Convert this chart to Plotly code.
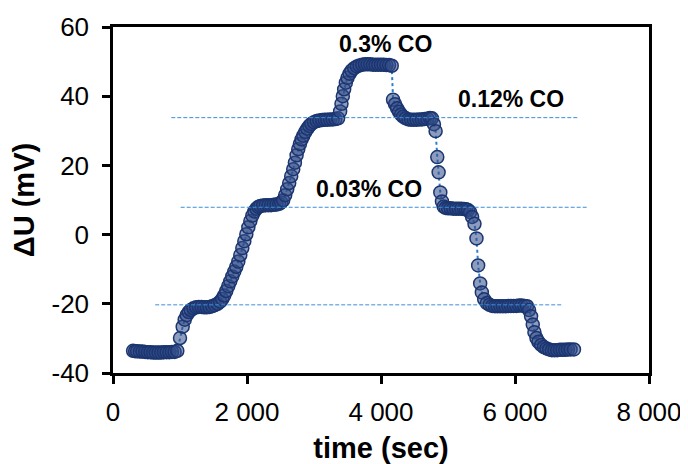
import plotly.graph_objects as go

# ---- data ----
time_s = [
    300, 330, 360, 400, 440, 480, 520, 560, 600, 640, 680, 720, 760, 800, 840, 880, 920, 960,
    1000, 1040, 1070, 1100, 1130, 1160, 1200, 1240, 1280, 1320, 1360, 1400, 1440, 1480, 1520, 1560,
    1600, 1630, 1660, 1690, 1720, 1750, 1780, 1810, 1840, 1870, 1900, 1930, 1960, 1990, 2020, 2050,
    2080, 2110, 2140, 2170, 2200, 2240, 2280, 2320, 2360, 2400, 2440, 2480, 2510, 2540,
    2570, 2600, 2630, 2660, 2690, 2715, 2740, 2765, 2790, 2815, 2840, 2870, 2900, 2930, 2960, 3000,
    3040, 3080, 3120, 3160, 3200, 3240, 3280, 3320, 3360, 3390, 3410, 3430, 3450, 3475, 3500, 3530,
    3560, 3600, 3640, 3680, 3720, 3760, 3800, 3840, 3880, 3920, 3960, 4000, 4040, 4080, 4120, 4160,
    4180, 4210, 4240, 4270, 4300, 4330, 4370, 4410, 4450, 4490, 4530, 4570, 4610, 4650, 4690, 4730,
    4760, 4790, 4815, 4840, 4860, 4885, 4910, 4935, 4965, 5000, 5040, 5080, 5120, 5160, 5200, 5240,
    5270, 5300, 5330, 5360, 5395, 5425, 5450, 5480, 5505, 5540, 5580, 5620, 5660, 5700, 5740, 5780,
    5820, 5860, 5900, 5940, 5980, 6020, 6060, 6100, 6140, 6180, 6210, 6240, 6265, 6290, 6320, 6350,
    6390, 6430, 6470, 6510, 6550, 6590, 6630, 6670, 6710, 6750, 6790, 6830, 6880,
]
delta_u_mv = [
    -33.6, -33.7, -33.7, -33.8, -33.8, -33.9, -34.0, -34.0, -34.1, -34.1, -34.1, -34.1, -34.0, -34.0, -34.0, -33.9, -33.9, -33.6,
    -29.9, -26.6, -24.6, -23.3, -22.4, -21.8, -21.3, -21.0, -20.9, -20.9, -21.0, -21.0, -20.9, -20.7, -20.4, -20.0,
    -19.4, -18.6, -17.6, -16.3, -14.9, -13.5, -12.1, -10.7, -9.3, -7.8, -5.9, -3.9, -1.9, 0.1, 2.1, 3.9,
    5.5, 6.7, 7.5, 8.0, 8.3, 8.4, 8.5, 8.5, 8.5, 8.6, 8.7, 8.9, 9.3, 9.9,
    11.4, 13.1, 14.9, 16.9, 18.9, 20.8, 22.9, 24.7, 26.2, 27.5, 28.6, 29.7, 30.6, 31.4, 32.0, 32.5,
    32.8, 33.0, 33.1, 33.2, 33.2, 33.3, 33.3, 33.4, 33.6, 35.6, 37.8, 40.0, 42.0, 43.9, 45.3, 46.5,
    47.4, 48.1, 48.6, 48.9, 49.1, 49.2, 49.2, 49.2, 49.1, 49.1, 49.1, 49.1, 49.1, 49.0, 49.0, 48.8,
    39.0, 37.7, 36.5, 35.5, 34.7, 34.1, 33.6, 33.3, 33.2, 33.2, 33.2, 33.3, 33.3, 33.4, 33.5, 33.7,
    33.6, 31.9, 29.9, 22.4, 18.0, 12.2, 9.6, 8.1, 7.7, 7.6, 7.6, 7.5, 7.5, 7.5, 7.5, 7.4,
    7.3, 7.1, 6.5, 5.1, 3.1, -1.1, -8.9, -14.1, -16.7, -18.7, -19.8, -20.3, -20.6, -20.7, -20.7, -20.7,
    -20.7, -20.7, -20.6, -20.6, -20.6, -20.6, -20.5, -20.5, -20.6, -20.7, -21.8, -23.6, -26.0, -28.2, -29.9, -31.0,
    -31.9, -32.5, -32.9, -33.2, -33.4, -33.4, -33.4, -33.3, -33.3, -33.3, -33.2, -33.2, -33.2,
]

# reference (dashed) levels and their extents
level_values = [-20.3, 7.9, 33.8]
level_start = [630, 1010, 870]
level_end = [6700, 7080, 6930]

# annotation labels
label_texts = ["0.3% CO", "0.12% CO", "0.03% CO"]
label_x = [4060, 5940, 3820]
label_y = [55.2, 39.3, 13.3]

x_tickvals = [0, 2000, 4000, 6000, 8000]
x_ticktext = ["0", "2 000", "4 000", "6 000", "8 000"]
y_tickvals = [-40, -20, 0, 20, 40, 60]
y_ticktext = ["-40", "-20", "0", "20", "40", "60"]

FONT = "Liberation Sans, Arial, sans-serif"

fig = go.Figure()

fig.add_trace(go.Scatter(
    x=time_s, y=delta_u_mv, mode="lines+markers",
    line=dict(color="#2a80d0", width=2, dash="dot"),
    marker=dict(symbol="circle", size=13, color="rgba(50,75,135,0.55)",
                line=dict(color="#1b3570", width=1.5)),
    showlegend=False, hoverinfo="x+y",
))

for lv, xs, xe in zip(level_values, level_start, level_end):
    fig.add_trace(go.Scatter(
        x=[xs, xe], y=[lv, lv], mode="lines",
        line=dict(color="#3d8fd8", width=1, dash="4px,2px"),
        showlegend=False, hoverinfo="skip",
    ))

for txt, ax_, ay_ in zip(label_texts, label_x, label_y):
    fig.add_annotation(x=ax_, y=ay_, text="<b>" + txt + "</b>", showarrow=False,
                       font=dict(family=FONT, size=23, color="black"),
                       xanchor="center", yanchor="middle")

axis_common = dict(
    showline=True, linecolor="black", linewidth=2.5, mirror=True,
    ticks="outside", ticklen=8, tickwidth=2.5, tickcolor="black",
    showgrid=False, zeroline=False, automargin=False,
    tickfont=dict(family=FONT, size=26, color="black"),
)

fig.update_xaxes(range=[0, 8000], tickvals=x_tickvals, ticktext=x_ticktext,
                 ticklabelstandoff=6,
                 title=dict(text="<b>time (sec)</b>", standoff=14,
                            font=dict(family=FONT, size=29, color="black")),
                 **axis_common)
fig.update_yaxes(range=[-40, 60], tickvals=y_tickvals, ticktext=y_ticktext,
                 ticklabelstandoff=8,
                 title=dict(text="<b>ΔU (mV)</b>", standoff=12,
                            font=dict(family=FONT, size=29, color="black")),
                 **axis_common)

fig.update_layout(
    width=680, height=456,
    margin=dict(l=105, r=39, t=19, b=91),
    plot_bgcolor="white", paper_bgcolor="white",
    font=dict(family=FONT, color="black"),
)

fig.write_html("out.html")
